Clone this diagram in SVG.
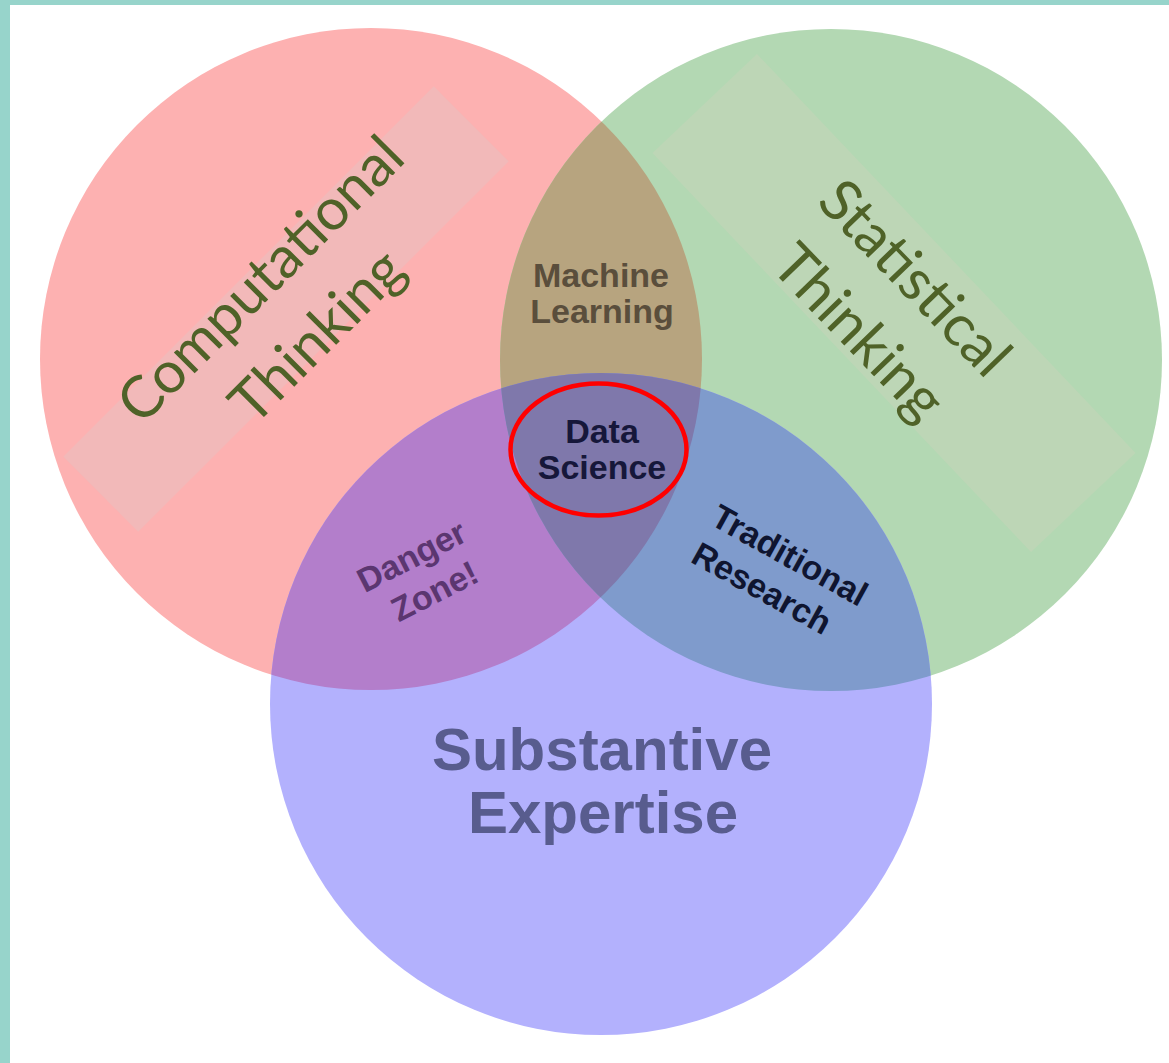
<svg xmlns="http://www.w3.org/2000/svg" width="1169" height="1063" viewBox="0 0 1169 1063">
  <defs>
    <clipPath id="clipRed"><circle cx="371" cy="359" r="331"/></clipPath>
    <clipPath id="clipGreen"><circle cx="831" cy="360" r="331"/></clipPath>
    <style>
      .title { font-family: Lato, "Open Sans", sans-serif; font-size: 58px; fill: #4f6228; text-anchor: middle; }
      .lbl { font-family: "Liberation Sans", Arial, sans-serif; font-weight: bold; font-size: 34px; text-anchor: middle; }
      .big { font-family: "Liberation Sans", Arial, sans-serif; font-weight: bold; font-size: 60px; text-anchor: middle; fill: #585c8e; }
    </style>
  </defs>

  <!-- page background and frame -->
  <rect x="0" y="0" width="1169" height="1063" fill="#ffffff"/>
  <rect x="0" y="0" width="1169" height="5" fill="#97d4cb"/>
  <rect x="0" y="0" width="10" height="1063" fill="#97d4cb"/>

  <!-- base circles -->
  <g id="computational">
    <circle cx="371" cy="359" r="331" fill="#fdb1b1"/>
    <rect x="-262" y="-53" width="524" height="106" fill="#f2b9b9" transform="translate(286,309) rotate(-45)"/>
  </g>
  <g id="statistical">
    <circle cx="831" cy="360" r="331" fill="#b3d8b3"/>
    <rect x="-275" y="-72" width="550" height="144" fill="#bdd6b6" transform="translate(894,303) rotate(46.5)"/>
  </g>
  <g id="substantive">
    <circle cx="601" cy="704" r="331" fill="#b3b1fd"/>
  </g>

  <!-- pairwise overlaps -->
  <g id="machine-learning-area">
    <circle cx="831" cy="360" r="331" fill="#b7a47f" clip-path="url(#clipRed)"/>
  </g>
  <g id="danger-zone-area">
    <circle cx="601" cy="704" r="331" fill="#b37ecb" clip-path="url(#clipRed)"/>
  </g>
  <g id="traditional-research-area">
    <circle cx="601" cy="704" r="331" fill="#7f9bcc" clip-path="url(#clipGreen)"/>
  </g>
  <!-- triple overlap -->
  <g id="data-science-area" clip-path="url(#clipRed)">
    <circle cx="601" cy="704" r="331" fill="#7f78ab" clip-path="url(#clipGreen)"/>
  </g>

  <!-- circle titles -->
  <g id="computational-label" transform="translate(290,309) rotate(-45)">
    <text class="title" x="0" y="-22">Computational</text>
    <text class="title" x="0" y="58">Thinking</text>
  </g>
  <g id="statistical-label" transform="translate(885,307) rotate(46)">
    <text class="title" x="0" y="-22">Statistical</text>
    <text class="title" x="0" y="56">Thinking</text>
  </g>

  <!-- region labels -->
  <g id="machine-learning">
    <text class="lbl" fill="#5a4e3c" x="601" y="287">Machine</text>
    <text class="lbl" fill="#5a4e3c" x="602" y="323">Learning</text>
  </g>
  <g id="data-science">
    <ellipse cx="598.5" cy="449.5" rx="88" ry="66" fill="none" stroke="#ff0000" stroke-width="4.5"/>
    <text class="lbl" fill="#16173a" x="602" y="443">Data</text>
    <text class="lbl" fill="#16173a" x="602" y="479">Science</text>
  </g>
  <g id="danger-zone">
    <text class="lbl" fill="#5b3670" font-size="36" transform="translate(411,555) rotate(-27)" y="13">Danger</text>
    <text class="lbl" fill="#5b3670" font-size="36" transform="translate(434,590) rotate(-27)" y="13">Zone!</text>
  </g>
  <g id="traditional-research">
    <text class="lbl" fill="#0f1530" font-size="35" transform="translate(790,555) rotate(29)" y="12">Traditional</text>
    <text class="lbl" fill="#0f1530" font-size="35" transform="translate(762,588) rotate(29)" y="12">Research</text>
  </g>
  <g id="substantive-expertise">
    <text class="big" x="602" y="770">Substantive</text>
    <text class="big" x="603" y="833">Expertise</text>
  </g>
</svg>
